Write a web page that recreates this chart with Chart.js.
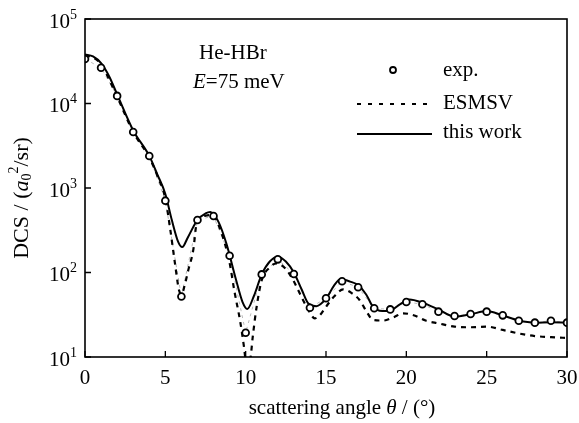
<!DOCTYPE html>
<html>
<head>
<meta charset="utf-8">
<script src="https://cdn.jsdelivr.net/npm/chart.js@4"></script>
<style>
  html, body { margin: 0; padding: 0; background: #fff; }
  #wrap { width: 579px; height: 423px; position: relative; }
</style>
</head>
<body>
<div id="wrap"><canvas id="chart"></canvas></div>
<script>
// experimental points (scattering angle in degrees, DCS)
var expAngle = [0, 1, 2, 3, 4, 5, 6, 7, 8, 9, 10, 11, 12, 13, 14, 15, 16, 17, 18, 19, 20, 21, 22, 23, 24, 25, 26, 27, 28, 29, 30];
var expDcs = [33600, 26500, 12300, 4600, 2390, 708, 52, 418, 467, 158, 19.4, 95, 143, 96, 38.3, 49.5, 78.7, 66.8, 37.7, 36.6, 44.8, 42.1, 34.4, 30.6, 32.3, 34.4, 31.1, 26.9, 25.5, 26.9, 25.5];

// ESMSV curve
var esmsvAngle = [0, 0.5, 1, 2, 3, 4, 4.5, 5, 5.3, 5.6, 5.85, 6.0, 6.2, 6.43, 6.74, 6.95, 7.5, 7.9, 8.4, 9.0, 9.3, 9.65, 9.9, 10.05, 10.27, 10.45, 10.68, 11, 11.5, 11.93, 12.5, 12.96, 13.4, 13.9, 14.3, 14.6, 14.93, 15.5, 16.07, 16.6, 17.1, 17.5, 17.94, 18.56, 19.2, 19.8, 20.5, 21.2, 22, 23, 24, 25, 26, 27, 28, 29, 30];
var esmsvDcs = [37000, 35000, 29000, 12000, 4600, 2300, 1400, 750, 330, 128, 62, 55, 70, 107, 185, 380, 470, 480, 330, 130, 60, 27, 13, 8, 9, 18, 39, 81, 115, 128, 110, 81, 55, 36, 28.7, 31, 37.7, 52, 63, 57, 47, 35, 27.4, 27, 29.5, 32.9, 31, 27, 25, 22.9, 22.5, 22.9, 20.9, 19, 17.7, 17.2, 16.8];

// this work curve
var workAngle = [0, 0.5, 1, 1.5, 2, 3, 4, 4.5, 5, 5.4, 5.8, 6.05, 6.4, 7, 7.5, 7.8, 8.3, 8.8, 9.4, 9.8, 10.1, 10.5, 11, 11.5, 12, 12.5, 13, 13.5, 13.9, 14.4, 15, 15.5, 15.9, 16.5, 17, 17.5, 17.9, 18.5, 19, 19.6, 20.2, 21, 22, 23, 24, 25, 26, 27, 28, 29, 30];
var workDcs = [38000, 36000, 30000, 21000, 12800, 4800, 2400, 1450, 850, 420, 230, 200, 260, 420, 500, 520, 400, 220, 82, 45, 37, 52, 95, 135, 154, 135, 100, 62, 43, 40, 49, 70, 83, 78, 71, 55, 40, 35, 35.5, 42, 48, 44, 36.5, 30, 32, 35, 31, 27, 25.5, 25.8, 25.5];

var xTicks = [0, 5, 10, 15, 20, 25, 30];
var yExponents = [1, 2, 3, 4, 5];

function toPoints(xs, ys) {
    return xs.map(function (x, i) { return { x: x, y: ys[i] }; });
}

var SERIF = '"Liberation Serif", "Times New Roman", serif';

// draw a run of text pieces with different fonts / vertical offsets
function drawRuns(ctx, runs, x, y, align) {
    var total = 0;
    runs.forEach(function (r) { ctx.font = r.font; total += ctx.measureText(r.text).width; });
    var cx = x;
    if (align === 'right') cx = x - total;
    if (align === 'center') cx = x - total / 2;
    runs.forEach(function (r) {
        ctx.font = r.font;
        ctx.fillText(r.text, cx, y + (r.dy || 0));
        cx += ctx.measureText(r.text).width;
    });
}

var decorations = {
    id: 'decorations',
    afterDraw: function (chart) {
        var ctx = chart.ctx;
        var a = chart.chartArea;
        var xs = chart.scales.x, ys = chart.scales.y;
        ctx.save();
        ctx.strokeStyle = '#000';
        ctx.fillStyle = '#000';

        // frame
        ctx.lineWidth = 1.6;
        ctx.strokeRect(a.left, a.top, a.right - a.left, a.bottom - a.top);

        // inward ticks
        ctx.lineWidth = 1.3;
        ctx.beginPath();
        xTicks.forEach(function (t) {
            var px = xs.getPixelForValue(t);
            ctx.moveTo(px, a.bottom);
            ctx.lineTo(px, a.bottom - 6);
        });
        yExponents.forEach(function (e) {
            var py = ys.getPixelForValue(Math.pow(10, e));
            ctx.moveTo(a.left, py);
            ctx.lineTo(a.left + 6, py);
        });
        ctx.stroke();

        // x tick labels
        ctx.textBaseline = 'middle';
        ctx.textAlign = 'center';
        ctx.font = '21px ' + SERIF;
        xTicks.forEach(function (t) {
            ctx.fillText(String(t), xs.getPixelForValue(t), a.bottom + 21);
        });

        // y tick labels 10^n
        ctx.textAlign = 'left';
        yExponents.forEach(function (e) {
            var py = ys.getPixelForValue(Math.pow(10, e));
            drawRuns(ctx, [
                { text: '10', font: '21px ' + SERIF, dy: 3 },
                { text: String(e), font: '14px ' + SERIF, dy: -4 }
            ], 77, py, 'right');
        });

        // x title
        drawRuns(ctx, [
            { text: 'scattering angle ', font: '21px ' + SERIF },
            { text: '\u03B8', font: 'italic 21px ' + SERIF },
            { text: ' / (\u00B0)', font: '21px ' + SERIF }
        ], 342, 408, 'center');

        // y title (rotated)
        ctx.save();
        ctx.translate(22, 198);
        ctx.rotate(-Math.PI / 2);
        drawRuns(ctx, [
            { text: 'DCS / (', font: '22px ' + SERIF },
            { text: 'a', font: 'italic 22px ' + SERIF },
            { text: '0', font: '14px ' + SERIF, dy: 5 },
            { text: '2', font: '14px ' + SERIF, dy: -8 },
            { text: '/sr)', font: '22px ' + SERIF }
        ], 0, 0, 'center');
        ctx.restore();

        // annotation
        ctx.font = '21px ' + SERIF;
        ctx.fillText('He-HBr', 199, 53);
        drawRuns(ctx, [
            { text: 'E', font: 'italic 21px ' + SERIF },
            { text: '=75 meV', font: '21px ' + SERIF }
        ], 193, 82, 'left');

        // legend
        ctx.font = '21px ' + SERIF;
        ctx.fillText('exp.', 443, 70);
        ctx.fillText('ESMSV', 443, 103);
        ctx.fillText('this work', 443, 132);

        ctx.lineWidth = 1.8;
        ctx.fillStyle = '#fff';
        ctx.beginPath();
        ctx.arc(393, 70, 3, 0, Math.PI * 2);
        ctx.fill();
        ctx.stroke();

        ctx.lineWidth = 2;
        ctx.setLineDash([4, 7]);
        ctx.beginPath();
        ctx.moveTo(357, 104);
        ctx.lineTo(432, 104);
        ctx.stroke();
        ctx.setLineDash([]);
        ctx.beginPath();
        ctx.moveTo(357, 134);
        ctx.lineTo(432, 134);
        ctx.stroke();

        ctx.restore();
    }
};

var ctxChart = document.getElementById('chart').getContext('2d');
var chart = new Chart(ctxChart, {
    type: 'scatter',
    plugins: [decorations],
    data: {
        datasets: [{
            label: 'exp.',
            data: toPoints(expAngle, expDcs),
            showLine: true,
            borderColor: 'rgba(0,0,0,0.35)',
            borderWidth: 0.8,
            borderDash: [3, 4],
            pointRadius: 3.4,
            pointBorderWidth: 1.8,
            pointBorderColor: '#000',
            pointBackgroundColor: '#fff'
        }, {
            label: 'this work',
            data: toPoints(workAngle, workDcs),
            showLine: true,
            borderColor: '#000',
            borderWidth: 2,
            pointRadius: 0,
            cubicInterpolationMode: 'monotone'
        }, {
            label: 'ESMSV',
            data: toPoints(esmsvAngle, esmsvDcs),
            showLine: true,
            borderColor: '#000',
            borderWidth: 2.2,
            borderDash: [5, 5],
            pointRadius: 0,
            cubicInterpolationMode: 'monotone'
        }]
    },
    options: {
        responsive: true,
        maintainAspectRatio: false,
        animation: false,
        layout: { padding: { left: 85, right: 12, top: 19, bottom: 66 } },
        plugins: {
            legend: { display: false },
            tooltip: { enabled: false }
        },
        scales: {
            x: { type: 'linear', min: 0, max: 30, display: false },
            y: { type: 'logarithmic', min: 10, max: 100000, display: false }
        }
    }
});
</script>
</body>
</html>
